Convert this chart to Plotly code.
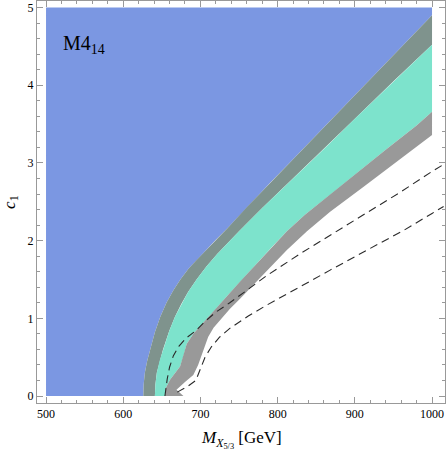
import plotly.graph_objects as go

# plot limits of the scan
M_MIN, M_MAX = 500, 1000
C_MIN, C_MAX = 0, 5

# blue (excluded) region boundary
b1_mass = [626, 626.5, 628, 631, 635, 641, 648, 656, 665, 674, 684, 695, 707, 720, 735, 760, 790, 825, 861, 900, 950, 1000]
b1_c1 = [0, 0.15, 0.3, 0.45, 0.6, 0.82, 1.02, 1.2, 1.36, 1.5, 1.63, 1.75, 1.88, 2.01, 2.16, 2.43, 2.74, 3.10, 3.47, 3.87, 4.38, 4.9]

# dark grey / turquoise boundary
b2_mass = [641, 641.7, 643.5, 647, 651.5, 659.7, 667, 675, 684, 695, 708, 722, 736, 750, 780, 820, 860, 900, 950, 1000]
b2_c1 = [0, 0.15, 0.3, 0.45, 0.6, 0.84, 1.02, 1.18, 1.34, 1.5, 1.67, 1.83, 1.98, 2.12, 2.42, 2.8, 3.18, 3.57, 4.05, 4.52]

# turquoise / light grey boundary
b3_mass = [654, 655, 660.6, 673.6, 677.9, 682.2, 690.8, 703.8, 718, 734, 752, 772, 792, 812, 835, 868, 900, 940, 980, 1000]
b3_c1 = [0, 0.1, 0.21, 0.38, 0.51, 0.67, 0.8, 0.94, 1.1, 1.28, 1.48, 1.7, 1.91, 2.12, 2.33, 2.59, 2.85, 3.17, 3.48, 3.66]

# light grey / white boundary (with the notch near the bottom)
b4_mass = [678, 669, 680, 690.8, 697, 703.8, 710, 717, 727, 738, 751, 770, 790, 812, 838, 868, 911, 954, 1000]
b4_c1 = [0, 0.08, 0.18, 0.27, 0.4, 0.59, 0.76, 0.88, 1.0, 1.12, 1.25, 1.45, 1.65, 1.88, 2.12, 2.37, 2.69, 3.01, 3.36]

# dashed curves
d1_mass = [654, 655, 657, 660, 665, 672, 682, 694, 706, 720, 738, 760, 786, 829, 876, 915, 960, 1000, 1015]
d1_c1 = [0, 0.1, 0.22, 0.37, 0.52, 0.64, 0.75, 0.84, 0.96, 1.08, 1.2, 1.36, 1.55, 1.83, 2.12, 2.36, 2.63, 2.89, 2.98]
d2_mass = [670, 683, 694, 700, 706, 714, 725, 738, 762, 786, 829, 868, 920, 963, 1000, 1015]
d2_c1 = [0.05, 0.12, 0.2, 0.35, 0.5, 0.63, 0.76, 0.87, 1.03, 1.17, 1.41, 1.62, 1.9, 2.13, 2.35, 2.44]

BLUE = "#7b97e2"
DARK_GREY = "#7f938d"
TURQ = "#7de3cc"
LIGHT_GREY = "#999999"
FRAME = "#999999"
SERIF = "Liberation Serif"

fig = go.Figure()


def region(xs, ys, color):
    fig.add_trace(go.Scatter(x=xs, y=ys, mode="lines", fill="toself", fillcolor=color,
                             line=dict(width=0), hoverinfo="skip", showlegend=False))


# blue excluded region
region([M_MIN] + b1_mass + [M_MAX, M_MIN], [C_MIN] + b1_c1 + [C_MAX, C_MAX], BLUE)
# dark grey band between b1 and b2
region(b2_mass + b1_mass[::-1], b2_c1 + b1_c1[::-1], DARK_GREY)
# turquoise band between b2 and b3
region(b3_mass + b2_mass[::-1], b3_c1 + b2_c1[::-1], TURQ)
# light grey band between b3 and b4
region(b4_mass + b3_mass[::-1], b4_c1 + b3_c1[::-1], LIGHT_GREY)

for xs, ys in [(d1_mass, d1_c1), (d2_mass, d2_c1)]:
    fig.add_trace(go.Scatter(x=xs, y=ys, mode="lines",
                             line=dict(color="#2a2a2a", width=1.1, dash="8px,5px"),
                             hoverinfo="skip", showlegend=False))

fig.add_annotation(x=520, y=4.52, text="M4<sub>14</sub>", showarrow=False, xanchor="left",
                   font=dict(family=SERIF, size=20, color="black"))

# axis titles
fig.add_annotation(x=0.5, y=-0.092, xref="paper", yref="paper", xanchor="center", yanchor="middle",
                   text="<i>M</i><sub><i>X</i><sub>5/3</sub></sub> [GeV]", showarrow=False,
                   font=dict(family=SERIF, size=17, color="black"))
fig.add_annotation(x=-0.064, y=0.5, xref="paper", yref="paper", xanchor="center", yanchor="middle",
                   text="<i>c</i><sub>1</sub>", textangle=-90, showarrow=False,
                   font=dict(family=SERIF, size=17, color="black"))

axis_common = dict(showgrid=False, zeroline=False, showline=True, linecolor=FRAME, linewidth=1,
                   mirror="ticks", ticks="inside", ticklen=6, tickcolor=FRAME, automargin=False,
                   tickfont=dict(family=SERIF, size=12, color="black"))

fig.update_xaxes(range=[488.3, 1016.8], tick0=500, dtick=100,
                 minor=dict(ticks="inside", ticklen=3, dtick=20, tickcolor=FRAME),
                 **axis_common)
fig.update_yaxes(range=[-0.09, 5.084], tick0=0, dtick=1,
                 minor=dict(ticks="inside", ticklen=3, dtick=0.2, tickcolor=FRAME),
                 **axis_common)

fig.update_layout(width=446, height=452, margin=dict(l=37, r=1, t=1, b=49),
                  plot_bgcolor="white", paper_bgcolor="white")

# drop the default page margin so the figure sits at the window's corner
fig.write_html("out.html", config={"displayModeBar": False},
               post_script="document.body.style.margin='0px';")
